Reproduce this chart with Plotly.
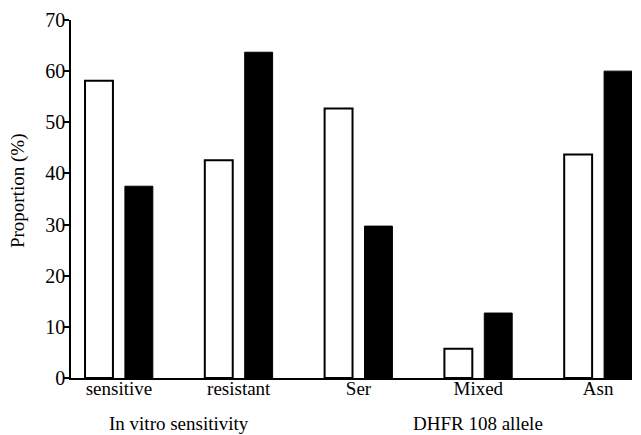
import plotly.graph_objects as go

categories = ["sensitive", "resistant", "Ser", "Mixed", "Asn"]
white_values = [58.1, 42.6, 52.7, 5.7, 43.7]
black_values = [37.5, 63.7, 29.7, 12.7, 60.0]
group_labels = ["In vitro sensitivity", "DHFR 108 allele"]
group_centers = [0.5, 3.0]
y_ticks = [0, 10, 20, 30, 40, 50, 60, 70]

pos = list(range(len(categories)))
FONT = "Liberation Serif"

fig = go.Figure()
fig.add_trace(go.Bar(
    x=pos, y=white_values, width=0.233, offset=-0.283,
    marker=dict(color="white", line=dict(color="black", width=2)),
    showlegend=False,
))
fig.add_trace(go.Bar(
    x=pos, y=black_values, width=0.233, offset=0.05,
    marker=dict(color="black", line=dict(color="black", width=1)),
    showlegend=False,
))

annotations = []
for lbl, c in zip(group_labels, group_centers):
    annotations.append(dict(x=c, xref="x", y=-0.128, yref="paper", text=lbl,
                            showarrow=False, xanchor="center", yanchor="middle",
                            font=dict(size=19, color="black", family=FONT)))
annotations.append(dict(x=-0.0945, xref="paper", y=0.525, yref="paper",
                        text="Proportion (%)", textangle=-90, showarrow=False,
                        xanchor="center", yanchor="middle",
                        font=dict(size=19, color="black", family=FONT)))

fig.update_layout(
    width=633, height=427,
    margin=dict(l=63, r=9, t=12, b=57, autoexpand=False),
    paper_bgcolor="white", plot_bgcolor="white",
    barmode="overlay",
    font=dict(family=FONT, color="black", size=19),
    annotations=annotations,
    xaxis=dict(range=[-0.4, 4.283], tickvals=pos, ticktext=categories,
               showgrid=False, zeroline=False, showline=True, linecolor="black",
               linewidth=1.5, ticks="", ticklabelstandoff=-8, automargin=False,
               tickfont=dict(size=19, family=FONT)),
    yaxis=dict(range=[0, 70], tickvals=y_ticks, showgrid=False, zeroline=False,
               showline=True, linecolor="black", linewidth=1.5, ticks="outside",
               ticklen=5, tickwidth=1.5, tickcolor="black", ticklabelstandoff=-5,
               automargin=False, tickfont=dict(size=20, family=FONT)),
)

fig.write_html("out.html")
